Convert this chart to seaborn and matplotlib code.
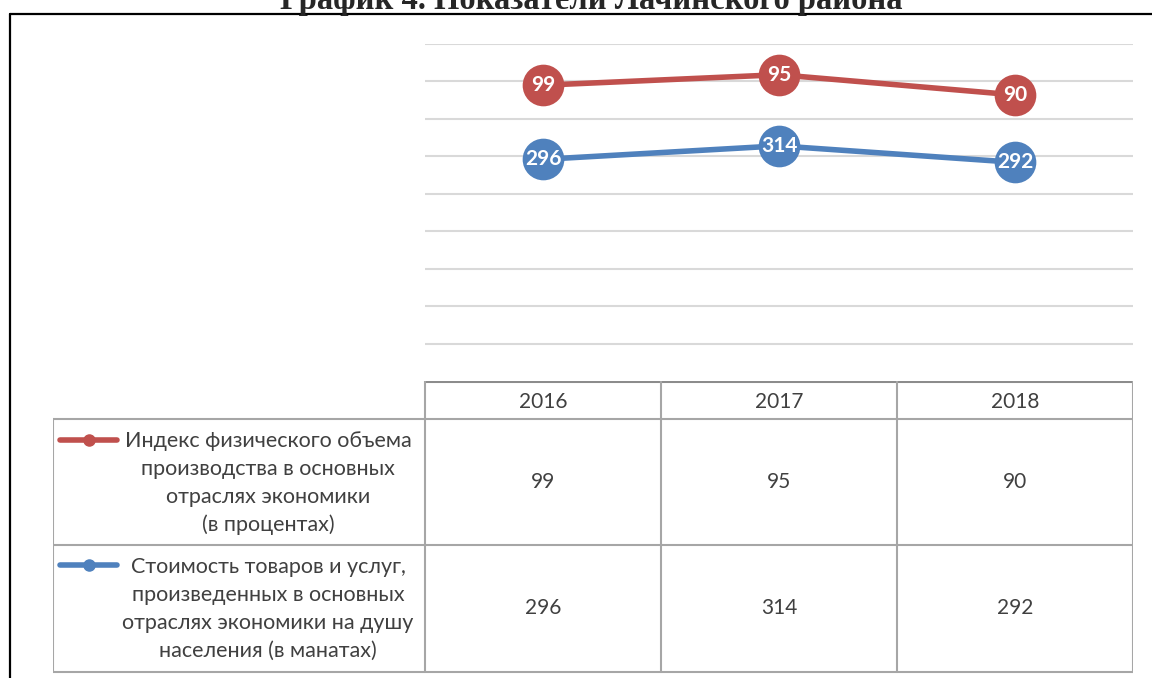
import numpy as np
import pandas as pd
import seaborn as sns
import matplotlib.pyplot as plt
from matplotlib.lines import Line2D

years = ["2016", "2017", "2018"]
index_vals = [99, 95, 90]        # Индекс физического объема (в процентах)
cost_vals = [296, 314, 292]      # Стоимость товаров и услуг на душу (в манатах)
red_label = "Индекс физического объема\nпроизводства в основных\nотраслях экономики\n(в процентах)"
blue_label = "Стоимость товаров и услуг,\nпроизведенных в основных\nотраслях экономики на душу\nнаселения (в манатах)"
title = "График 4. Показатели Лачинского района"

RED = "#C0504D"
BLUE = "#4F81BD"
GRID = "#D9D9D9"
TBL = "#A6A6A6"
TXT = "#404040"

sns.set_style("white")
plt.rcParams["font.family"] = ["Lato", "DejaVu Sans"]

W, H = 1152, 678
fig = plt.figure(figsize=(W / 100, H / 100), dpi=100)

# stacked line chart (Excel "stacked line"): red sits on top of blue
pos = np.arange(len(years))
df = pd.DataFrame({"pos": pos, "cost": cost_vals,
                   "top": np.array(cost_vals) + np.array(index_vals)})

ax = fig.add_axes([425 / W, 1 - 381 / H, 708 / W, 337 / H])
ax.set_xlim(-0.5, 2.5)
ax.set_ylim(0, 450)
for yv in range(50, 451, 50):
    ax.axhline(yv, color=GRID, lw=1.5, zorder=0)
sns.lineplot(data=df, x="pos", y="cost", ax=ax, color=BLUE, lw=4, marker="o",
             markersize=30, markeredgewidth=0, zorder=3)
sns.lineplot(data=df, x="pos", y="top", ax=ax, color=RED, lw=4, marker="o",
             markersize=30, markeredgewidth=0, zorder=3)
for p, b, t, r in zip(pos, cost_vals, df["top"], index_vals):
    ax.text(p, b, str(b), color="white", fontsize=15, fontweight="bold",
            ha="center", va="center", zorder=4)
    ax.text(p, t, str(r), color="white", fontsize=15, fontweight="bold",
            ha="center", va="center", zorder=4)
ax.set_xticks([])
ax.set_yticks([])
ax.set_xlabel("")
ax.set_ylabel("")
for s in ax.spines.values():
    s.set_visible(False)

# data table under the chart
lw_col = (425 - 53) / 236.0
tx = fig.add_axes([53 / W, 1 - 674 / H, 1080 / W, 293 / H])
tx.set_xlim(-0.5 - lw_col, 2.5)
tx.set_ylim(293, 0)
tx.axis("off")
rows = [0, 38, 164, 291]
x0 = -0.5 - lw_col
tx.plot([-0.5, 2.5], [0, 0], color="#8C8C8C", lw=2.2, solid_capstyle="butt")
for yv in rows[1:]:
    tx.plot([x0, 2.5], [yv, yv], color=TBL, lw=1.5)
tx.plot([x0, x0], [38, 291], color=TBL, lw=1.5)
for xv in [-0.5, 0.5, 1.5, 2.5]:
    tx.plot([xv, xv], [0, 291], color=TBL, lw=1.5)

for p, yr, a, b in zip(pos, years, index_vals, cost_vals):
    tx.text(p, 21, yr, ha="center", va="center", fontsize=15, color=TXT)
    tx.text(p, 101, str(a), ha="center", va="center", fontsize=15, color=TXT)
    tx.text(p, 227, str(b), ha="center", va="center", fontsize=15, color=TXT)

lab_x = x0 + (268 - 53) / 236.0
tx.text(lab_x, 102, red_label, ha="center", va="center", fontsize=15.5,
        color=TXT, linespacing=1.5, multialignment="center")
tx.text(lab_x, 228, blue_label, ha="center", va="center", fontsize=15.5,
        color=TXT, linespacing=1.5, multialignment="center")
kx = [x0 + 7 / 236.0, x0 + 64 / 236.0]
for yk, c in [(59, RED), (184, BLUE)]:
    tx.plot(kx, [yk, yk], color=c, lw=4, solid_capstyle="round")
    tx.plot([np.mean(kx)], [yk], "o", color=c, markersize=8)

# outer frame and cut-off title
fig.add_artist(Line2D([10 / W, 10 / W], [0, 1 - 13.5 / H], color="black", lw=1.6))
fig.add_artist(Line2D([10 / W, 1], [1 - 13.5 / H, 1 - 13.5 / H], color="black", lw=1.6))
fig.text(591 / W, 1 - 9 / H, title, ha="center", va="baseline", fontsize=23.5,
         fontweight="bold", family=["Liberation Serif", "DejaVu Serif"])

fig.savefig("out.png", dpi=100)
